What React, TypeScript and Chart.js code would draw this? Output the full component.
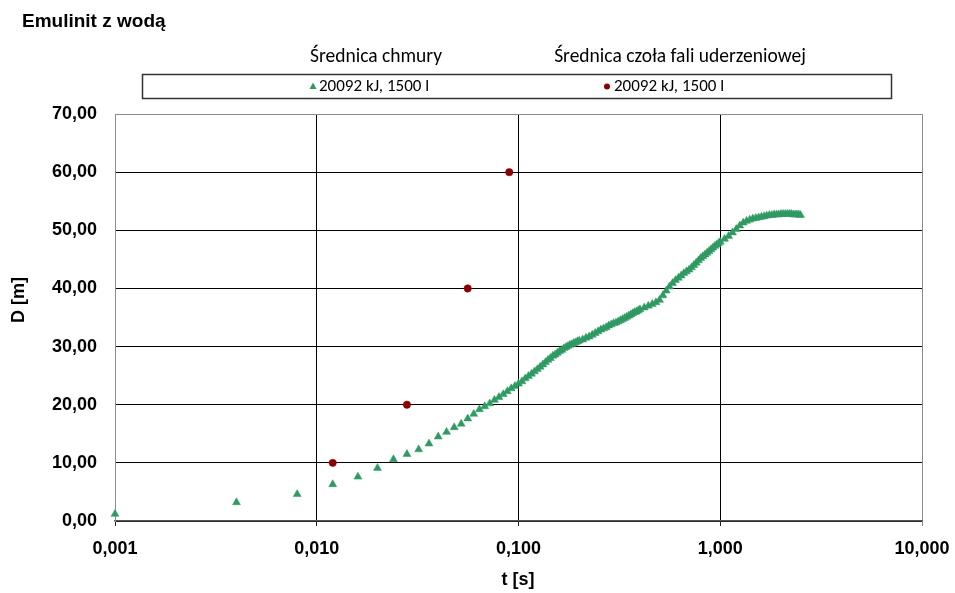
import { useEffect, useRef } from "react";
import { Chart, registerables } from "chart.js";

Chart.register(...registerables);

// Texts
const chartTitle = "Emulinit z wodą";
const xAxisTitle = "t [s]";
const yAxisTitle = "D [m]";
const cloudGroupName = "Średnica chmury";
const shockGroupName = "Średnica czoła fali uderzeniowej";
const cloudLabel = "20092 kJ, 1500 l";
const shockLabel = "20092 kJ, 1500 l";

// Axis ticks
const xTicks = [0.001, 0.01, 0.1, 1, 10];
const yTicks = [0, 10, 20, 30, 40, 50, 60, 70];

// Cloud diameter over time
const cloudTime = [
  0.001, 0.004, 0.008, 0.012, 0.016, 0.02, 0.024, 0.028, 0.032, 0.036, 0.04, 0.044, 0.048,
  0.052, 0.056, 0.06, 0.064, 0.068, 0.072, 0.076, 0.08, 0.084, 0.088, 0.092, 0.096, 0.1,
  0.104, 0.108, 0.112, 0.116, 0.12, 0.124, 0.128, 0.132, 0.136, 0.14, 0.144, 0.148, 0.152,
  0.156, 0.16, 0.164, 0.168, 0.172, 0.176, 0.18, 0.184, 0.188, 0.192, 0.196, 0.2,
  0.208, 0.216, 0.224, 0.232, 0.24, 0.248, 0.256, 0.264, 0.272, 0.28, 0.288, 0.296, 0.304,
  0.312, 0.32, 0.328, 0.336, 0.344, 0.352, 0.36, 0.368, 0.376, 0.384, 0.392, 0.4,
  0.42, 0.44, 0.46, 0.48, 0.5, 0.52, 0.54, 0.56, 0.58, 0.6, 0.62, 0.64, 0.66, 0.68, 0.7,
  0.72, 0.74, 0.76, 0.78, 0.8, 0.82, 0.84, 0.86, 0.88, 0.9, 0.92, 0.94, 0.96, 0.98, 1.0,
  1.05, 1.1, 1.15, 1.2, 1.25, 1.3, 1.35, 1.4, 1.45, 1.5, 1.55, 1.6, 1.65, 1.7, 1.75, 1.8,
  1.85, 1.9, 1.95, 2.0, 2.05, 2.1, 2.15, 2.2, 2.25, 2.3, 2.35, 2.4, 2.45, 2.5,
];
const cloudDiameter = [
  1.2, 3.2, 4.6, 6.3, 7.6, 9.1, 10.6, 11.5, 12.3, 13.3, 14.5, 15.3, 16.1,
  16.7, 17.6, 18.4, 19.2, 19.7, 20.2, 20.8, 21.3, 21.8, 22.3, 22.8, 23.2, 23.6,
  24.0, 24.5, 24.9, 25.3, 25.7, 26.1, 26.5, 26.9, 27.3, 27.7, 28.0, 28.4, 28.6,
  28.9, 29.2, 29.4, 29.7, 29.9, 30.1, 30.3, 30.4, 30.6, 30.7, 30.9, 31.0,
  31.2, 31.5, 31.7, 32.0, 32.3, 32.6, 32.9, 33.1, 33.3, 33.6, 33.8, 34.0, 34.1,
  34.3, 34.5, 34.7, 34.9, 35.1, 35.3, 35.5, 35.7, 35.9, 36.0, 36.2, 36.4,
  36.7, 37.0, 37.3, 37.6, 38.0, 38.8, 39.6, 40.3, 40.9, 41.4, 41.8, 42.2, 42.6, 42.9, 43.2,
  43.6, 44.0, 44.4, 44.8, 45.2, 45.5, 45.8, 46.1, 46.4, 46.7, 47.0, 47.3, 47.5, 47.8, 48.0,
  48.5, 49.0, 49.6, 50.2, 50.8, 51.3, 51.6, 51.8, 52.0, 52.1, 52.2, 52.3, 52.4, 52.5, 52.6, 52.6,
  52.7, 52.7, 52.7, 52.8, 52.8, 52.8, 52.8, 52.8, 52.8, 52.7, 52.7, 52.7, 52.7, 52.6,
];

// Shock wave front diameter over time
const shockTime = [0.012, 0.028, 0.056, 0.09];
const shockDiameter = [10, 20, 40, 60];

const GREEN = "#2f9a62";
const RED = "#8b0000";
const AXIS_FONT = "'Liberation Sans', Arial, sans-serif";
const LEGEND_FONT = "Carlito, 'Liberation Sans Narrow', 'Arial Narrow', sans-serif";

const fmtComma = (v: number, digits: number) => v.toFixed(digits).replace(".", ",");

const decorations = {
  id: "decorations",
  afterDraw(chart: Chart) {
    const ctx = chart.ctx;
    ctx.save();
    ctx.fillStyle = "#000";
    ctx.textBaseline = "middle";

    // title
    ctx.font = `bold 19px ${AXIS_FONT}`;
    ctx.textAlign = "left";
    ctx.fillText(chartTitle, 22, 22);

    // axis titles
    ctx.font = `bold 18px ${AXIS_FONT}`;
    ctx.textAlign = "center";
    ctx.fillText(xAxisTitle, 518, 580);
    ctx.save();
    ctx.translate(19, 300);
    ctx.rotate(-Math.PI / 2);
    ctx.fillText(yAxisTitle, 0, 0);
    ctx.restore();

    // legend group headers
    ctx.font = `19.5px ${LEGEND_FONT}`;
    ctx.fillText(cloudGroupName, 376, 57);
    ctx.fillText(shockGroupName, 680, 57);

    // legend box
    ctx.strokeStyle = "#333";
    ctx.lineWidth = 1.5;
    ctx.strokeRect(142.5, 74.5, 749, 24);

    // legend markers
    ctx.fillStyle = GREEN;
    ctx.beginPath();
    ctx.moveTo(313, 82.5);
    ctx.lineTo(316.5, 89);
    ctx.lineTo(309.5, 89);
    ctx.closePath();
    ctx.fill();
    ctx.fillStyle = RED;
    ctx.beginPath();
    ctx.arc(607, 86.5, 3, 0, Math.PI * 2);
    ctx.fill();

    // legend texts
    ctx.fillStyle = "#000";
    ctx.textAlign = "left";
    ctx.font = `17px ${LEGEND_FONT}`;
    ctx.fillText(cloudLabel, 319, 87);
    ctx.fillText(shockLabel, 614, 87);
    ctx.restore();
  },
};

export default function App() {
  const canvasRef = useRef<HTMLCanvasElement | null>(null);

  useEffect(() => {
    if (!canvasRef.current) return;
    const chart = new Chart(canvasRef.current, {
      type: "scatter",
      data: {
        datasets: [
          {
            label: cloudLabel,
            data: cloudTime.map((t, i) => ({ x: t, y: cloudDiameter[i] })),
            pointStyle: "triangle",
            pointRadius: 4.6,
            backgroundColor: GREEN,
            borderColor: GREEN,
            borderWidth: 0.5,
            clip: false,
          },
          {
            label: shockLabel,
            data: shockTime.map((t, i) => ({ x: t, y: shockDiameter[i] })),
            pointStyle: "circle",
            pointRadius: 3.7,
            backgroundColor: RED,
            borderColor: RED,
            borderWidth: 0.5,
            clip: false,
          },
        ],
      },
      options: {
        responsive: false,
        animation: false,
        devicePixelRatio: 1,
        layout: { padding: { left: 0, top: 114, right: 33, bottom: 0 } },
        plugins: {
          legend: { display: false },
          tooltip: { enabled: false },
          title: { display: false },
        },
        scales: {
          x: {
            type: "logarithmic",
            min: 0.001,
            max: 10,
            afterBuildTicks: (scale: any) => {
              scale.ticks = xTicks.map((v) => ({ value: v, major: true }));
            },
            afterFit: (scale: any) => {
              scale.height = 72;
              scale.paddingLeft = 0;
              scale.paddingRight = 0;
            },
            ticks: {
              autoSkip: false,
              maxRotation: 0,
              padding: 12,
              color: "#000",
              font: { family: AXIS_FONT, size: 18, weight: "bold" },
              callback: (v: any) => fmtComma(Number(v), 3),
            },
            grid: {
              color: (c: any) =>
                c.tick && (c.tick.value === 0.001 || c.tick.value === 10) ? "#8c8c8c" : "#000",
              tickColor: (c: any) => (c.tick && c.tick.value === 10 ? "#8c8c8c" : "#222"),
              lineWidth: 1,
              tickLength: 5,
            },
            border: { color: "#555", width: 1.5 },
          },
          y: {
            min: 0,
            max: 70,
            afterBuildTicks: (scale: any) => {
              scale.ticks = yTicks.map((v) => ({ value: v }));
            },
            afterFit: (scale: any) => {
              scale.width = 115;
            },
            ticks: {
              padding: 18,
              color: "#000",
              font: { family: AXIS_FONT, size: 18, weight: "bold" },
              callback: (v: any) => fmtComma(Number(v), 2),
            },
            grid: {
              color: (c: any) => (c.tick && c.tick.value === 70 ? "#8c8c8c" : "#000"),
              lineWidth: 1,
              drawTicks: false,
            },
            border: { color: "#8c8c8c", width: 1 },
          },
        },
      },
      plugins: [decorations],
    });
    return () => chart.destroy();
  }, []);

  return (
    <div style={{ position: "fixed", left: 0, top: 0, width: 955, height: 593, background: "#fff" }}>
      <canvas ref={canvasRef} width={955} height={593} style={{ display: "block" }} />
    </div>
  );
}
